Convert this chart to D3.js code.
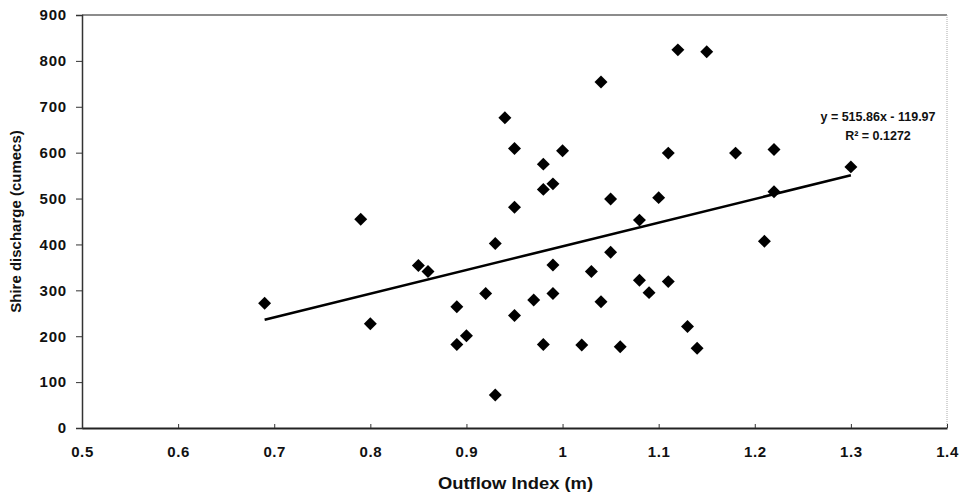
<html>
<head>
<style>
body { margin: 0; background: #fff; }
text { font-family: Arial, "Liberation Sans", sans-serif; font-weight: bold; fill: #111; }
</style>
<script src="https://d3js.org/d3.v7.min.js"></script>
</head>
<body>
<div id="viz"></div>
<script>
// data
var outflowIndex = [0.69, 0.79, 0.80, 0.85, 0.86, 0.89, 0.89, 0.90, 0.92, 0.93, 0.93, 0.94, 0.95, 0.95, 0.95,
  0.97, 0.98, 0.98, 0.98, 0.99, 0.99, 0.99, 1.00, 1.02, 1.03, 1.04, 1.04, 1.05, 1.05, 1.06,
  1.08, 1.08, 1.09, 1.10, 1.11, 1.11, 1.12, 1.13, 1.14, 1.15, 1.18, 1.21, 1.22, 1.22, 1.30];
var shireDischarge = [272, 455, 227, 354, 341, 264, 182, 201, 293, 402, 72, 676, 609, 481, 245,
  279, 575, 520, 182, 532, 355, 293, 604, 181, 341, 754, 275, 499, 383, 177,
  453, 322, 295, 502, 599, 319, 824, 221, 174, 820, 599, 407, 607, 515, 569];
var xTicks = [0.5, 0.6, 0.7, 0.8, 0.9, 1, 1.1, 1.2, 1.3, 1.4];
var yTicks = [0, 100, 200, 300, 400, 500, 600, 700, 800, 900];
var slope = 515.86, intercept = -119.97;
var eqLines = ["y = 515.86x - 119.97", "R\u00b2 = 0.1272"];

var width = 965, height = 496;
var margin = {left: 82, right: 18, top: 15, bottom: 68};

var svg = d3.select("#viz").append("svg")
  .attr("width", width).attr("height", height);

var x = d3.scaleLinear().domain([0.5, 1.4]).range([margin.left, width - margin.right]);
var y = d3.scaleLinear().domain([0, 900]).range([height - margin.bottom, margin.top]);

// plot frame (top + right)
svg.append("line")
  .attr("x1", x(0.5)).attr("x2", x(1.4)).attr("y1", y(900)).attr("y2", y(900))
  .attr("stroke", "#666").attr("stroke-width", 1.5);
svg.append("line")
  .attr("x1", x(1.4)).attr("x2", x(1.4)).attr("y1", y(900)).attr("y2", y(0))
  .attr("stroke", "#aaa").attr("stroke-width", 1).attr("stroke-dasharray", "1,1");

var xAxis = svg.append("g")
  .attr("transform", "translate(0," + y(0) + ")")
  .call(d3.axisBottom(x).tickValues(xTicks).tickSizeInner(-4).tickSizeOuter(0).tickPadding(18).tickFormat(d3.format("")));
xAxis.select(".domain").attr("stroke", "#222").attr("stroke-width", 2);
xAxis.selectAll(".tick line").attr("stroke", "#333");
xAxis.selectAll("text").style("font-size", "15px").style("letter-spacing", "0.6px").attr("fill", "#222");

var yAxis = svg.append("g")
  .attr("transform", "translate(" + x(0.5) + ",0)")
  .call(d3.axisLeft(y).tickValues(yTicks).tickSize(6).tickPadding(9));
yAxis.select(".domain").attr("stroke", "#333").attr("stroke-width", 1.5);
yAxis.selectAll(".tick line").attr("stroke", "#333");
yAxis.selectAll("text").style("font-size", "15px").style("letter-spacing", "0.8px").attr("fill", "#222");

// axis titles
svg.append("text")
  .attr("x", (x(0.5) + x(1.4)) / 2 + 1).attr("y", 489)
  .attr("text-anchor", "middle")
  .attr("textLength", 155).attr("lengthAdjust", "spacingAndGlyphs")
  .style("font-size", "16px")
  .text("Outflow Index (m)");

svg.append("text")
  .attr("transform", "translate(21," + ((y(0) + y(900)) / 2) + ") rotate(-90)")
  .attr("text-anchor", "middle")
  .style("font-size", "15px")
  .text("Shire discharge (cumecs)");

// trend line
var xMin = d3.min(outflowIndex), xMax = d3.max(outflowIndex);
svg.append("line")
  .attr("x1", x(xMin)).attr("y1", y(slope * xMin + intercept))
  .attr("x2", x(xMax)).attr("y2", y(slope * xMax + intercept))
  .attr("stroke", "#000").attr("stroke-width", 2.6);

// diamonds
var diamond = d3.symbol().type(d3.symbolSquare).size(84);
svg.append("g").selectAll("path")
  .data(outflowIndex)
  .enter().append("path")
  .attr("d", diamond)
  .attr("fill", "#000")
  .attr("transform", function(d, i) {
    return "translate(" + x(d) + "," + y(shireDischarge[i]) + ") rotate(45)";
  });

// equation label
svg.append("g").selectAll("text")
  .data(eqLines)
  .enter().append("text")
  .attr("x", 878)
  .attr("y", function(d, i) { return 121 + i * 19; })
  .attr("text-anchor", "middle")
  .style("font-size", "12.5px")
  .attr("fill", "#222")
  .text(function(d) { return d; });
</script>
</body>
</html>
